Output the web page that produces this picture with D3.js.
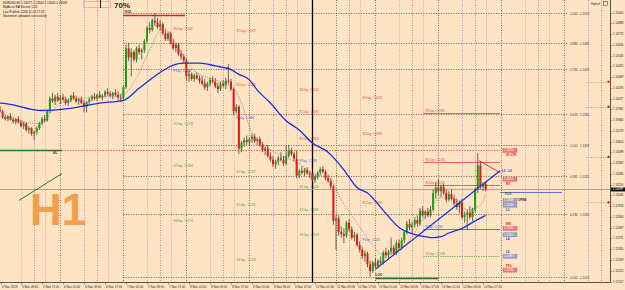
<!DOCTYPE html>
<html>
<head>
<meta charset="utf-8">
<script src="https://cdn.jsdelivr.net/npm/d3@7"></script>
<style>
  html, body { margin: 0; padding: 0; background: #FFE4C4; }
  svg { display: block; font-family: "Liberation Sans", Arial, sans-serif; }
</style>
</head>
<body>
<div id="chart"></div>
<script>
// prices are kept as pips above BASE (1 pip = 0.0001)
const BASE = 1.12;

// hourly candles [open, high, low, close], first bar = 2 Nov 23:00
const candles = [
  [190,194,186,192],[192,198,190,196],[196,200,193,194],[194,196,186,188],[188,191,184,186],
  [186,190,183,189],[189,192,184,185],[185,188,181,183],[183,187,180,186],[186,189,181,182],
  [182,185,177,178],[178,183,175,181],[181,182,172,174],[174,178,170,176],[176,177,168,170],
  [170,173,163,172],[172,178,169,176],[176,183,174,181],[181,188,179,186],[186,190,182,184],
  [184,196,183,194],[194,210,192,208],[208,214,203,205],[205,212,201,210],[210,214,204,206],
  [206,211,202,209],[209,213,205,207],[207,210,201,203],[203,208,200,206],[206,212,204,211],
  [211,215,207,208],[208,211,203,205],[205,209,201,207],[207,210,202,203],[203,206,193,199],
  [199,205,193,204],[204,209,201,207],[207,212,205,210],[210,214,206,208],[208,213,205,212],
  [212,216,208,209],[209,213,206,211],[211,217,209,215],[215,219,211,213],[213,216,209,211],
  [211,215,207,214],[214,218,210,212],[212,216,206,209],[209,213,204,208],[208,222,205,220],
  [220,266,218,262],[262,268,248,252],[252,262,232,258],[258,260,248,250],[250,264,247,262],
  [262,266,255,258],[258,262,250,260],[260,272,257,270],[270,286,268,284],[284,290,278,282],
  [282,294,280,292],[292,300,286,290],[290,295,283,285],[285,292,281,288],[288,290,276,278],
  [278,282,270,272],[272,280,270,278],[278,280,266,268],[268,272,260,262],[262,268,258,266],
  [266,268,254,256],[256,260,250,253],[253,256,246,249],[249,251,228,232],[232,238,226,234],
  [234,236,227,229],[229,235,226,233],[233,236,228,230],[230,233,224,227],[227,232,222,224],
  [224,229,217,220],[220,226,216,224],[224,230,221,228],[228,232,224,226],[226,230,219,221],
  [221,225,214,218],[218,226,216,224],[224,228,220,222],[222,230,218,227],[227,245,224,226],
  [226,229,216,218],[218,220,190,194],[194,202,192,199],[199,201,148,154],[154,162,150,160],
  [160,166,156,163],[163,168,158,161],[161,166,157,164],[164,170,160,167],[167,170,160,162],
  [162,166,158,164],[164,167,156,158],[158,161,150,152],[152,156,147,154],[154,158,144,146],
  [146,150,140,142],[142,146,134,137],[137,142,132,140],[140,146,136,144],[144,150,140,142],
  [142,146,135,138],[138,158,136,146],[146,158,144,152],[152,155,146,148],[148,150,140,143],
  [143,152,122,125],[125,132,122,130],[130,135,126,128],[128,133,124,131],[131,134,126,127],
  [127,130,122,126],[126,128,118,120],[120,126,117,124],[124,130,121,128],[128,134,125,132],
  [132,135,127,129],[129,131,120,122],[122,126,117,119],[119,122,110,113],[113,115,72,76],
  [76,82,45,79],[79,82,60,64],[64,70,58,62],[62,68,52,60],[60,76,58,74],
  [74,78,64,67],[67,70,56,58],[58,64,54,61],[61,63,48,50],[50,54,42,45],
  [45,48,35,38],[38,44,32,41],[41,43,26,29],[29,33,16,22],[22,33,20,31],
  [31,36,25,27],[27,35,25,33],[33,38,29,31],[31,44,29,42],[42,47,36,39],
  [39,45,34,43],[43,58,40,47],[47,50,38,41],[41,55,39,52],[52,56,44,47],
  [47,58,45,55],[55,66,52,64],[64,76,61,73],[73,78,66,69],[69,75,63,72],
  [72,80,69,77],[77,82,70,73],[73,90,71,87],[87,92,80,83],[83,88,78,86],
  [86,90,80,82],[82,92,80,88],[88,110,86,106],[106,118,100,112],[112,121,104,108],
  [108,115,102,113],[113,116,104,106],[106,110,96,99],[99,108,97,105],[105,110,98,100],
  [100,104,92,95],[95,100,88,91],[91,98,84,96],[96,100,78,80],[80,86,74,83],
  [83,88,66,85],[85,92,78,80],[80,90,76,88],[88,112,85,110],[110,149,106,136],
  [136,140,110,113],[113,118,108,116],[116,118,108,110]
];

// slow moving average: [bar, pips]
const slowMA = [[0,203],[2,203],[18,195],[28,197],[40,203],[49,206],[55,219],[63,236],[68,244],
  [72,246],[78,246],[84,243],[90,239],[93,234],[97,228],[100,217],[105,203],[111,184],[116,174],
  [121,160],[127,150],[133,131],[138,112],[142,106],[149,84],[154,69],[158,63],[162,60],[167,58],
  [170,59],[173,63],[178,68],[183,76],[187,82]];

// fast dotted average: [bar, pips]
const fastMA = [[0,190],[17,181],[25,203],[36,209],[48,211],[54,230],[59,260],[64,284],[71,258],
  [76,238],[84,228],[91,219],[94,203],[98,171],[104,155],[110,145],[116,138],[121,127],[128,122],
  [131,104],[138,74],[144,50],[148,39],[153,43],[158,55],[164,82],[170,101],[175,100],[180,88],
  [185,93],[187,104]];

const priceTicks = [1.15004,1.14888,1.14772,1.14656,1.14540,1.14425,1.14309,1.14193,1.14077,
  1.13961,1.13845,1.13729,1.13614,1.13498,1.13382,1.13266,1.13150,1.13034,1.12918,1.12803,
  1.12687,1.12571,1.12455,1.12339,1.12223,1.12107];
const lastPrice = 1.13099;

const timeLabels = [["2 Nov 2018",0],["5 Nov 09:00",10],["5 Nov 17:00",18],["6 Nov 01:00",26],
  ["6 Nov 09:00",34],["6 Nov 17:00",42],["7 Nov 01:00",50],["7 Nov 09:00",58],["7 Nov 17:00",66],
  ["8 Nov 01:00",74],["8 Nov 09:00",82],["8 Nov 17:00",90],["9 Nov 01:00",98],["9 Nov 09:00",106],
  ["9 Nov 17:00",114],["12 Nov 01:00",122],["12 Nov 09:00",130],["12 Nov 17:00",138],
  ["13 Nov 01:00",146],["13 Nov 09:00",154],["13 Nov 17:00",162],["14 Nov 01:00",170],
  ["14 Nov 09:00",178],["14 Nov 17:00",186]];

// bar index of each day's 00:00 and the session hours marked each day
const dayStarts = [1,25,49,73,97,121,145,169,193,217];
const sessionHours = [0,9,14,18];
const weekStart = 121;

const fibLevels = [["1.000",300],["0.886",267.6],["0.786",239.2],["0.618",191.5],
  ["0.500",158],["0.382",124.5],["0.236",83],["0.000",16]];

// daily pivots: [day start bar, [name, pips]...]
const pivotDays = [
  [49, [["R1",281],["P",236],["S1",178],["S2",133],["S3",74]]],
  [73, [["R2",279],["R1",220],["P",185],["S1",127],["S2",91],["S3",32]]],
  [97, [["R3",215],["R2",191],["R1",162],["P",139],["S1",111],["S2",86],["S3",59]]],
  [121,[["R3",206],["R2",168],["R1",93],["P",53]]],
  [145,[["R3",192],["R2",140],["R1",115],["P",67],["S1",38]]]
];

// right-hand price tags: [name, pips, kind, name above/below]
const tags = [["S1:LTR",152,"r","below"],["MT",121,"r","below"],["OPEN",98,"g","right"],
  ["L3",93,"b","below"],["MN",68,"r","above"],["L4",61,"b","below"],["L5",38,"b","above"],
  ["PDL",23,"r","above"]];

const alertLevels = [226,199,145,96];

const infoLines = ["EURUSD,H1  1.13077 1.13144 1.13049 1.13099","MyAssist EA Version 1.05",
  "Last Publish: 2018.11.14 17:58","Statement uploaded successfully"];

const W = 625, H = 290, plotW = 610, plotH = 282;
const P = v => BASE + v / 10000;

const x = d3.scaleLinear().domain([10, 186]).range([21, 483]);
const y = d3.scaleLinear().domain([1.12107, 1.15004]).range([281.5, 12.7]);

const svg = d3.select("#chart").append("svg").attr("width", W).attr("height", H);
svg.append("rect").attr("width", W).attr("height", H).attr("fill", "#FFE4C4");
svg.append("clipPath").attr("id", "plotClip").append("rect").attr("width", plotW).attr("height", plotH);
const plot = svg.append("g").attr("clip-path", "url(#plotClip)");

const snap = v => Math.round(v) + 0.5;

// vertical session lines
const h09Colors = ["#aeb2c8","#8a96e6","#b2aca0","#b2aca0","#8a96e6","#6e6650","#b2aca0","#8a96e6","#b2aca0","#8a96e6"];
dayStarts.forEach((d, k) => {
  sessionHours.forEach(h => {
    const xv = snap(x(d + h));
    let color = "#e07070", dash = "1,1.5", w = 0.9;
    if (h === 0) {
      if (d === weekStart) { color = "#000"; dash = null; w = 1.3; }
      else color = "#6e6650";
    } else if (h === 9) color = h09Colors[k];
    else if (h === 18) color = "#ec9494";
    plot.append("line").attr("x1", xv).attr("x2", xv).attr("y1", 0).attr("y2", plotH)
      .attr("stroke", color).attr("stroke-width", w).attr("stroke-dasharray", dash);
  });
});

// fibonacci levels
const fibG = plot.append("g");
fibLevels.forEach(([r, v]) => {
  const yv = snap(y(P(v)));
  fibG.append("line").attr("x1", x(49)).attr("x2", 568).attr("y1", yv).attr("y2", yv)
    .attr("stroke", "#6e6650").attr("stroke-width", 0.9).attr("stroke-dasharray", "1.2,1.3");
  fibG.append("text").attr("x", 570).attr("y", yv + 1).attr("font-size", 3).attr("fill", "#333")
    .text(`${r} : ${P(v).toFixed(4)}`);
});

// bid line
plot.append("line").attr("x1", 0).attr("x2", plotW).attr("y1", snap(y(lastPrice))).attr("y2", snap(y(lastPrice)))
  .attr("stroke", "#a09880").attr("stroke-width", 0.8);

// level lines
const lvl = plot.append("g");
function hline(v, x1, x2, color, dash, w) {
  const yv = snap(y(P(v)));
  lvl.append("line").attr("x1", x1).attr("x2", x2).attr("y1", yv).attr("y2", yv)
    .attr("stroke", color).attr("stroke-width", w || 0.9).attr("stroke-dasharray", dash);
}
hline(152, x(25.6), 500, "#e85050", "1.5,1.2", 0.9);
hline(152, 0, x(25.6), "#1d7a1d", null, 1.4);
hline(298, x(49), x(72.5), "#e02020", null, 1.4);
hline(14.5, x(145), x(169), "#1d7a1d", null, 1.4);
hline(107, 500, 562, "#5060e0", null, 0.9);
alertLevels.forEach(v => {
  hline(v, 586, plotW, "#f07070", "1.2,1.2", 0.8);
  lvl.append("rect").attr("x", 607.5).attr("y", y(P(v)) - 1).attr("width", 2).attr("height", 2).attr("fill", "#e00000");
});

lvl.append("text").attr("x", 53).attr("y", y(P(152)) + 3.5).attr("font-size", 3).attr("font-weight", "bold").attr("fill", "#333").text("ML");
lvl.append("text").attr("x", 124.5).attr("y", y(P(298)) - 2).attr("font-size", 3).attr("font-weight", "bold").attr("fill", "#333").text("HOD");
lvl.append("text").attr("x", 375.5).attr("y", y(P(14.5)) - 2).attr("font-size", 3).attr("font-weight", "bold").attr("fill", "#333").text("LOD");

// pivot labels
const pivColor = n => n === "P" ? "#3348e0" : (n[0] === "R" ? "#e03a3a" : "#3b9a2a");
pivotDays.forEach(([d, levels], k) => {
  const lx = x(d) + 50;
  levels.forEach(([n, v]) => {
    const yv = y(P(v));
    if (k === pivotDays.length - 1) {
      lvl.append("line").attr("x1", lx - 2).attr("x2", 500).attr("y1", snap(yv)).attr("y2", snap(yv))
        .attr("stroke", pivColor(n)).attr("stroke-width", 0.9)
        .attr("stroke-dasharray", n[0] === "S" ? "1.2,1.2" : null).attr("opacity", 0.85);
    }
    lvl.append("text").attr("x", lx).attr("y", yv - 0.8).attr("font-size", 2.7).attr("fill", pivColor(n))
      .text(`${n} Day : ${P(v).toFixed(4)}`);
  });
});

// candles
const cg = plot.append("g");
cg.selectAll("line").data(candles).join("line")
  .attr("x1", (d, i) => x(i)).attr("x2", (d, i) => x(i))
  .attr("y1", d => y(P(d[1]))).attr("y2", d => y(P(d[2])))
  .attr("stroke", "#3a3535").attr("stroke-width", 0.75);
cg.selectAll("rect").data(candles).join("rect")
  .attr("x", (d, i) => x(i) - 1).attr("width", 2)
  .attr("y", d => y(P(Math.max(d[0], d[3]))))
  .attr("height", d => Math.max(0.7, Math.abs(y(P(d[0])) - y(P(d[3])))))
  .attr("fill", d => d[3] >= d[0] ? "#19a019" : "#e01818");

// moving averages
const line = d3.line().x(d => x(d[0])).y(d => y(P(d[1]))).curve(d3.curveMonotoneX);
plot.append("path").attr("d", line(fastMA)).attr("fill", "none").attr("stroke", "#7a7060")
  .attr("stroke-width", 0.7).attr("stroke-dasharray", "1,1");
plot.append("path").attr("d", line(slowMA)).attr("fill", "none").attr("stroke", "#1a2ee0").attr("stroke-width", 1.3);

// trend lines
const trend = [
  [[[9.2,98],[25.6,127]], "#1d7a1d", 1],
  [[[145,24],[192.5,130]], "#1a2ee0", 1.2],
  [[[184.5,141],[192.5,128]], "#e02020", 0.9]
];
trend.forEach(([pts, c, w]) => {
  plot.append("path").attr("d", d3.line().x(d => x(d[0])).y(d => y(P(d[1])))(pts))
    .attr("stroke", c).attr("stroke-width", w).attr("fill", "none");
});
plot.append("text").attr("x", 502).attr("y", y(P(130)) + 1).attr("font-size", 3).attr("font-weight", "bold")
  .attr("fill", "#2233dd").text("L5 - L5");

// price tags on the right
const tagFill = { r: "#f07a7a", g: "#a8a8a8", b: "#9aa0d8" };
const tagText = { r: "#e02020", g: "#222", b: "#2233dd" };
tags.forEach(([n, v, k, pos]) => {
  const yv = y(P(v));
  plot.append("rect").attr("x", 503).attr("y", yv - 2).attr("width", 14).attr("height", 4)
    .attr("fill", tagFill[k]).attr("stroke", k === "r" ? "#e04040" : "#777").attr("stroke-width", 0.4);
  plot.append("text").attr("x", 504).attr("y", yv + 1).attr("font-size", 2.6).attr("fill", "#fff").text(P(v).toFixed(5));
  const t = plot.append("text").attr("font-size", 3).attr("font-weight", "bold").attr("fill", tagText[k]).text(n);
  if (pos === "right") t.attr("x", 518).attr("y", yv + 1);
  else t.attr("x", 506).attr("y", pos === "below" ? yv + 5.5 : yv - 3);
});
plot.append("text").attr("x", 505).attr("y", y(P(104)) + 0.5).attr("font-size", 3).attr("font-weight", "bold")
  .attr("fill", "#1d7a1d").text("PDH");

// timeframe watermark
plot.append("text").attr("x", 30).attr("y", 225).attr("font-size", 44).attr("font-weight", "bold")
  .attr("font-family", "Liberation Sans, Arial, sans-serif").attr("fill", "#F0A04B").text("H1");

// info block and widgets
infoLines.forEach((t, i) => {
  svg.append("text").attr("x", 3).attr("y", 4 + i * 4.3).attr("font-size", 3).attr("fill", "#111").text(t);
});
svg.append("rect").attr("x", 83.5).attr("y", 1.5).attr("width", 27).attr("height", 6).attr("fill", "none")
  .attr("stroke", "#6e6650").attr("stroke-width", 0.6).attr("stroke-dasharray", "1,1");
svg.append("line").attr("x1", 100.5).attr("x2", 100.5).attr("y1", 0).attr("y2", 8).attr("stroke", "#222").attr("stroke-width", 1);
svg.append("text").attr("x", 114).attr("y", 8).attr("font-size", 8).attr("font-weight", "bold").attr("fill", "#222").text("70%");
svg.append("text").attr("x", 591).attr("y", 4.5).attr("font-size", 3).attr("fill", "#333").text("Hybrid");
svg.append("rect").attr("x", 603.5).attr("y", 1.5).attr("width", 4).attr("height", 4).attr("fill", "none").attr("stroke", "#333").attr("stroke-width", 0.5);

// axes frame
svg.append("line").attr("x1", plotW + 0.5).attr("x2", plotW + 0.5).attr("y1", 0).attr("y2", plotH + 0.5).attr("stroke", "#555").attr("stroke-width", 1);
svg.append("line").attr("x1", 0).attr("x2", plotW + 0.5).attr("y1", plotH + 0.5).attr("y2", plotH + 0.5).attr("stroke", "#555").attr("stroke-width", 1);

const yAxis = svg.append("g");
priceTicks.forEach(p => {
  const yv = y(p);
  yAxis.append("line").attr("x1", plotW).attr("x2", plotW + 2).attr("y1", snap(yv)).attr("y2", snap(yv)).attr("stroke", "#555").attr("stroke-width", 0.6);
  yAxis.append("text").attr("x", plotW + 3).attr("y", yv + 1).attr("font-size", 2.9).attr("fill", "#222").text(p.toFixed(5));
});
yAxis.append("rect").attr("x", plotW + 1).attr("y", y(lastPrice) - 2).attr("width", 14).attr("height", 4).attr("fill", "#111");
yAxis.append("text").attr("x", plotW + 2.5).attr("y", y(lastPrice) + 1).attr("font-size", 2.9).attr("fill", "#fff").text(lastPrice.toFixed(5));

const xAxis = svg.append("g");
timeLabels.forEach(([t, i], k) => {
  const xv = k === 0 ? 1 : x(i);
  xAxis.append("line").attr("x1", snap(xv)).attr("x2", snap(xv)).attr("y1", plotH).attr("y2", plotH + 2.5).attr("stroke", "#555").attr("stroke-width", 0.6);
  xAxis.append("text").attr("x", xv + 1).attr("y", 288).attr("font-size", 3).attr("fill", "#222").text(t);
});
</script>
</body>
</html>
